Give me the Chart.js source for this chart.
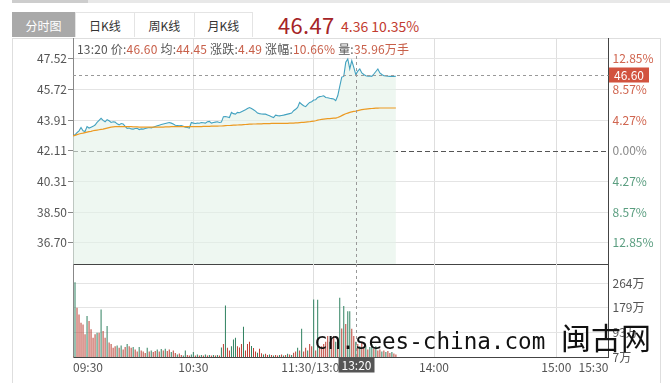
<!DOCTYPE html>
<html>
<head>
<meta charset="utf-8">
<script src="https://cdn.jsdelivr.net/npm/chart.js@4"></script>
<style>
  body { margin: 0; background: #fff; width: 670px; height: 383px; overflow: hidden; position: relative;
         font-family: 'Noto Sans CJK SC', 'Noto Sans', sans-serif; }
  canvas { position: absolute; left: 0; top: 0; }
  .abs { position: absolute; white-space: nowrap; }
  .tab { position: absolute; top: 12px; height: 25px; line-height: 25px; text-align: center; font-size: 12px;
         color: #333; border: 1px solid #e4e4e4; border-bottom: none; box-sizing: border-box; background: #fff; }
  .lb { color: #555; }
  .vl { color: #c8604a; }
</style>
</head>
<body>
<div class="abs" style="left:12px;top:0;width:658px;height:3px;background:#e8e8e8"></div>
<div class="abs" style="left:12px;top:0;width:76px;height:3px;background:#cdcdcd"></div>
<div class="abs" style="left:12px;top:38px;width:649px;height:345px;border:1px solid #dedede;border-bottom:none;box-sizing:border-box"></div>
<div class="tab" style="left:12px;width:63px;background:#a9a9a9;color:#fff;border-color:#a9a9a9">分时图</div>
<div class="tab" style="left:75px;width:60px">日K线</div>
<div class="tab" style="left:134px;width:61px">周K线</div>
<div class="tab" style="left:194px;width:59px">月K线</div>
<div class="abs" style="left:278px;top:10px;font-size:22px;line-height:28px;color:#a52427;letter-spacing:0.3px">46.47</div>
<div class="abs" style="left:341px;top:16px;font-size:14px;line-height:20px;color:#c23b2f">4.36 10.35%</div>

<canvas id="price" width="670" height="383"></canvas>
<canvas id="volume" width="670" height="383"></canvas>

<div class="abs" style="left:77px;top:41px;font-size:12px;line-height:16px;letter-spacing:0.2px">
  <span class="lb">13:20 价:</span><span class="vl">46.60</span>
  <span class="lb">均:</span><span class="vl">44.45</span>
  <span class="lb">涨跌:</span><span class="vl">4.49</span>
  <span class="lb">涨幅:</span><span class="vl">10.66%</span>
  <span class="lb">量:</span><span class="vl">35.96万手</span>
</div>
<div class="abs" style="left:314px;top:330px;font-family:'DejaVu Sans Mono',monospace;font-size:22.6px;line-height:22px;color:#111">cn.sees-china.com</div>
<div class="abs" style="left:561px;top:321px;font-size:30px;line-height:30px;color:#111">闽古网</div>

<script>
// ===== data
const preClose = 42.11;
const xMax = 267;
const timeTicks = [0, 60, 120, 180, 241, 267];
const timeLabels = ['09:30', '10:30', '11:30/13:00', '14:00', '15:00', '15:30'];
const priceTicks = [36.70, 38.50, 40.31, 42.11, 43.91, 45.72, 47.52];
const pctLabels = ['12.85%', '8.57%', '4.27%', '0.00%', '4.27%', '8.57%', '12.85%'];
const volTicks = [7, 93, 179, 264];

// one value per minute, 09:30 .. 13:40
const price = [
  42.99,43.05,43.18,43.29,43.48,43.29,43.25,43.54,43.45,43.50,
  43.55,43.63,43.78,43.90,44.02,43.90,43.82,43.94,43.88,43.78,
  43.82,43.80,43.70,43.64,43.72,43.69,43.55,43.43,43.45,43.40,
  43.39,43.42,43.43,43.36,43.40,43.39,43.42,43.45,43.48,43.46,
  43.50,43.54,43.58,43.62,43.66,43.69,43.72,43.75,43.78,43.74,
  43.69,43.62,43.60,43.58,43.60,43.55,43.50,43.48,43.45,43.78,
  43.74,43.72,43.74,43.73,43.78,43.76,43.74,43.82,43.84,43.74,
  43.78,43.80,43.82,43.78,43.80,44.12,44.13,44.10,44.07,44.37,
  44.30,44.27,44.37,44.35,44.41,44.47,44.53,44.60,44.66,44.60,
  44.53,44.45,44.33,44.30,44.28,44.27,44.27,44.22,44.17,44.12,
  44.07,44.21,44.18,44.17,44.19,44.21,44.24,44.27,44.30,44.33,
  44.47,44.56,44.66,44.96,44.85,44.76,44.71,44.85,44.96,45.00,
  45.10,45.12,
  45.25,45.30,45.32,45.35,45.25,45.23,45.20,45.18,45.16,45.06,
  45.35,45.90,46.45,46.49,47.32,47.52,46.93,47.42,47.02,46.60,
  46.80,46.93,46.69,46.60,46.53,46.50,46.52,46.49,46.63,46.78,
  46.93,46.69,46.60,46.53,46.52,46.50,46.49,46.50,46.49,46.50
];
const avg = [
  42.99,43.02,43.06,43.10,43.13,43.15,43.18,43.21,43.24,43.26,
  43.29,43.31,43.33,43.35,43.37,43.39,43.42,43.45,43.48,43.50,
  43.52,43.53,43.53,43.54,43.54,43.54,43.54,43.53,43.53,43.53,
  43.52,43.52,43.52,43.51,43.51,43.51,43.50,43.50,43.50,43.50,
  43.50,43.50,43.50,43.51,43.51,43.51,43.52,43.52,43.52,43.53,
  43.53,43.53,43.53,43.53,43.53,43.53,43.53,43.53,43.53,43.53,
  43.54,43.54,43.54,43.54,43.54,43.55,43.55,43.55,43.55,43.56,
  43.56,43.56,43.56,43.57,43.57,43.58,43.59,43.60,43.60,43.61,
  43.62,43.62,43.63,43.64,43.64,43.65,43.66,43.67,43.68,43.68,
  43.69,43.69,43.70,43.70,43.70,43.71,43.71,43.71,43.71,43.72,
  43.72,43.72,43.72,43.72,43.73,43.73,43.73,43.73,43.74,43.74,
  43.74,43.75,43.76,43.77,43.78,43.79,43.80,43.81,43.82,43.84,
  43.86,43.88,
  43.92,43.94,43.96,43.98,43.99,44.00,44.01,44.02,44.03,44.04,
  44.07,44.12,44.18,44.24,44.29,44.33,44.37,44.40,44.43,44.45,
  44.48,44.51,44.53,44.55,44.57,44.58,44.59,44.60,44.61,44.62,
  44.62,44.63,44.63,44.63,44.63,44.63,44.63,44.63,44.63,44.63
];
// volume in 万
const volume = [
  10,267,178,155,126,120,86,149,132,103,
  74,86,91,91,172,97,74,115,57,52,
  39,44,47,39,47,33,42,52,44,39,
  42,33,26,42,30,26,21,39,26,30,
  24,28,33,26,35,30,36,28,33,24,
  30,21,16,19,14,12,30,14,12,16,
  24,12,16,12,14,12,16,12,14,12,
  14,12,14,12,40,52,186,39,30,44,
  68,74,44,40,52,112,30,52,60,45,
  38,26,22,36,20,16,18,14,16,14,
  12,14,12,14,16,12,14,18,16,14,
  22,26,39,30,105,26,39,30,52,44,
  207,30,206,44,44,52,60,80,60,68,
  80,60,74,213,106,184,122,166,166,105,
  80,60,52,44,60,39,47,33,42,52,
  36,44,30,33,26,30,24,28,21,24,
  19,16
];
// bar colour per minute: r = red, g = green
const volDir =
  'rgrrrrrgrr' + 'rrgrgrrgrr' + 'rrgrgrrgrr' + 'grrgrrrgrg' +
  'rrgrgrgrrg' + 'rrgrrggrrg' + 'grgrgrgrgr' + 'grgrgrgrrg' +
  'ggrrrgrrrg' + 'rrgrrgrrgr' + 'grrgrgrgrg' + 'rrgrgrrgrr' +
  'grgrrrrrgr' + 'rgrgrgrggr' + 'rgrgrrgrgg' + 'rgrrgrgrrg' + 'rr';

// crosshair at 13:20
const crossIndex = 141;
const crossPrice = 46.60;
const crossTime = '13:20';

// ===== colours
const red = '#bb3f33';
const green = '#2f8160';
const font = { family: "'Noto Sans CJK SC', 'Noto Sans', sans-serif", size: 12 };
Chart.defaults.font = font;

const setTicks = (list) => (scale) => { scale.ticks = list.map(v => ({ value: v })); };

// dashed lines + crosshair for the price panel
const pricePlugin = {
  id: 'priceMarks',
  beforeDatasetsDraw(chart) {
    const { ctx, chartArea: a, scales } = chart;
    const y = scales.y.getPixelForValue(preClose);
    ctx.save();
    ctx.strokeStyle = '#555';
    ctx.lineWidth = 1;
    ctx.setLineDash([5, 3]);
    ctx.beginPath();
    ctx.moveTo(a.left, Math.round(y) + 0.5);
    ctx.lineTo(a.right, Math.round(y) + 0.5);
    ctx.stroke();
    ctx.restore();
  },
  afterDatasetsDraw(chart) {
    const { ctx, chartArea: a, scales } = chart;
    const x = Math.round(scales.x.getPixelForValue(crossIndex)) + 0.5;
    const y = Math.round(scales.y.getPixelForValue(crossPrice)) + 0.5;
    ctx.save();
    ctx.strokeStyle = '#999';
    ctx.lineWidth = 1;
    ctx.setLineDash([3, 3]);
    ctx.beginPath();
    ctx.moveTo(x, a.top + 18);
    ctx.lineTo(x, a.bottom);
    ctx.moveTo(a.left, y);
    ctx.lineTo(a.right, y);
    ctx.stroke();
    ctx.setLineDash([]);
    // price box on the right axis
    ctx.fillStyle = '#d2533f';
    ctx.fillRect(a.right + 0.5, y - 8, 40, 15);
    ctx.fillStyle = '#fff';
    ctx.font = "12px 'Noto Sans CJK SC'";
    ctx.textAlign = 'center';
    ctx.textBaseline = 'middle';
    ctx.fillText(crossPrice.toFixed(2), a.right + 20.5, y);
    ctx.restore();
  }
};

const volumePlugin = {
  id: 'volumeMarks',
  afterDraw(chart) {
    const { ctx, chartArea: a, scales } = chart;
    const x = Math.round(scales.x.getPixelForValue(crossIndex)) + 0.5;
    ctx.save();
    ctx.strokeStyle = '#999';
    ctx.lineWidth = 1;
    ctx.setLineDash([3, 3]);
    ctx.beginPath();
    ctx.moveTo(x, a.top);
    ctx.lineTo(x, a.bottom);
    ctx.stroke();
    ctx.setLineDash([]);
    ctx.fillStyle = '#555';
    ctx.fillRect(x - 18, a.bottom + 0.5, 36, 15);
    ctx.fillStyle = '#fff';
    ctx.font = "12px 'Noto Sans CJK SC'";
    ctx.textAlign = 'center';
    ctx.textBaseline = 'middle';
    ctx.fillText(crossTime, x, a.bottom + 8);
    ctx.restore();
  }
};

// ===== price chart
new Chart(document.getElementById('price'), {
  type: 'line',
  data: {
    datasets: [{
      data: price.map((v, i) => ({ x: i, y: v })),
      borderColor: '#43a2c0',
      borderWidth: 1.1,
      pointRadius: 0,
      fill: 'start',
      backgroundColor: 'rgba(226,241,232,0.6)',
      tension: 0,
      order: 1
    }, {
      // average line drawn after the price fill so it stays solid
      data: avg.map((v, i) => ({ x: i, y: v })),
      borderColor: '#ec9a22',
      borderWidth: 1.2,
      pointRadius: 0,
      fill: false,
      tension: 0,
      order: 0
    }]
  },
  options: {
    responsive: false,
    animation: false,
    events: [],
    layout: { padding: { top: 38, bottom: 119, left: 0, right: 0 } },
    plugins: { legend: { display: false }, tooltip: { enabled: false } },
    scales: {
      x: {
        type: 'linear', min: 0, max: xMax,
        afterBuildTicks: setTicks(timeTicks),
        afterFit: (s) => { s.height = 0; },
        ticks: { display: false },
        grid: { color: '#dedede', drawTicks: false },
        border: { color: '#444' }
      },
      y: {
        position: 'left', min: 35.45, max: 48.75,
        afterBuildTicks: setTicks(priceTicks),
        afterFit: (s) => { s.width = 73; },
        ticks: { callback: (v) => v.toFixed(2), color: '#555', padding: 1, autoSkip: false },
        grid: {
          color: (c) => (c.tick && Math.abs(c.tick.value - preClose) < 0.001) ? 'rgba(0,0,0,0)' : '#e4e4e4',
          tickLength: 5, tickColor: '#888'
        },
        border: { color: '#888' }
      },
      yr: {
        position: 'right', min: 35.45, max: 48.75,
        afterBuildTicks: setTicks(priceTicks),
        afterFit: (s) => { s.width = 61.5; },
        ticks: {
          callback: (v, i) => pctLabels[i],
          color: (c) => c.index < 3 ? '#5b9e80' : (c.index === 3 ? '#888' : '#d0654f'),
          padding: 4, autoSkip: false
        },
        grid: { drawOnChartArea: false, drawTicks: false },
        border: { color: '#444' }
      }
    }
  },
  plugins: [pricePlugin]
});

// ===== volume chart
new Chart(document.getElementById('volume'), {
  type: 'bar',
  data: {
    datasets: [{
      data: volume.map((v, i) => ({ x: i, y: v })),
      backgroundColor: volume.map((v, i) => volDir[i] === 'g' ? green : red),
      barThickness: 1,
      inflateAmount: 0
    }]
  },
  options: {
    responsive: false,
    animation: false,
    events: [],
    layout: { padding: { top: 264, bottom: 0, left: 0, right: 0 } },
    plugins: { legend: { display: false }, tooltip: { enabled: false } },
    scales: {
      x: {
        type: 'linear', min: 0, max: xMax, offset: false,
        afterBuildTicks: setTicks(timeTicks),
        afterFit: (s) => { s.height = 26; },
        ticks: { callback: (v, i) => timeLabels[i], color: '#555', align: 'inner', maxRotation: 0, autoSkip: false, padding: 3 },
        grid: { color: '#dedede', drawTicks: false, offset: false },
        border: { color: '#444' }
      },
      y: {
        position: 'right', min: 7, max: 330,
        afterBuildTicks: setTicks(volTicks),
        afterFit: (s) => { s.width = 61.5; },
        ticks: { callback: (v) => v + '万', color: '#555', padding: 4, autoSkip: false },
        grid: { color: (c) => (c.tick && c.tick.value === 7) ? 'rgba(0,0,0,0)' : '#e4e4e4', drawTicks: false },
        border: { color: '#444' }
      },
      yl: {
        position: 'left', min: 0, max: 1,
        afterFit: (s) => { s.width = 73; },
        ticks: { display: false },
        grid: { drawOnChartArea: false, drawTicks: false },
        border: { color: '#888' }
      }
    }
  },
  plugins: [volumePlugin]
});
</script>
</body>
</html>
